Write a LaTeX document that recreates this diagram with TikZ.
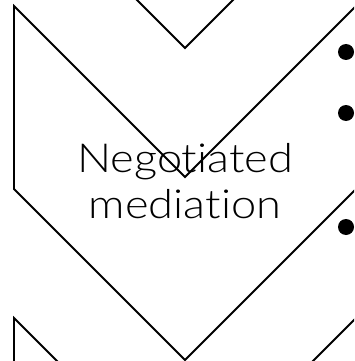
\documentclass[tikz,border=0pt]{standalone}
\usepackage{fontspec}
\setmainfont{Lato}[UprightFont=* Light, Ligatures=NoCommon, FakeStretch=1.13]
\tikzset{
  chev/.style={draw=black, line width=1.8pt, line join=miter},
  bulletdot/.style={circle, fill=black, inner sep=0pt, minimum size=16pt},
  lbl/.style={align=center, font=\fontsize{40}{46}\selectfont, inner sep=0pt}
}
\begin{document}
\begin{tikzpicture}[x=1pt,y=-1pt]
\useasboundingbox (0,0) rectangle (354,361);
\begin{scope}
\clip (0,0) rectangle (354,361);
\foreach \dy in {-312,0,312}{
  \draw[chev] (14,6+\dy) -- (185,177+\dy) -- (356,6+\dy) -- (356,189+\dy) -- (185,360+\dy) -- (14,189+\dy) -- cycle;
}
\node[lbl, anchor=base] (t) at (185,172) {Negotiated};
\node[lbl, anchor=base] (t2) at (185,218) {mediation};
\node[bulletdot] (b1) at (346,52) {};
\node[bulletdot] (b2) at (346,113) {};
\node[bulletdot] (b3) at (346,227) {};
\end{scope}
\end{tikzpicture}
\end{document}
